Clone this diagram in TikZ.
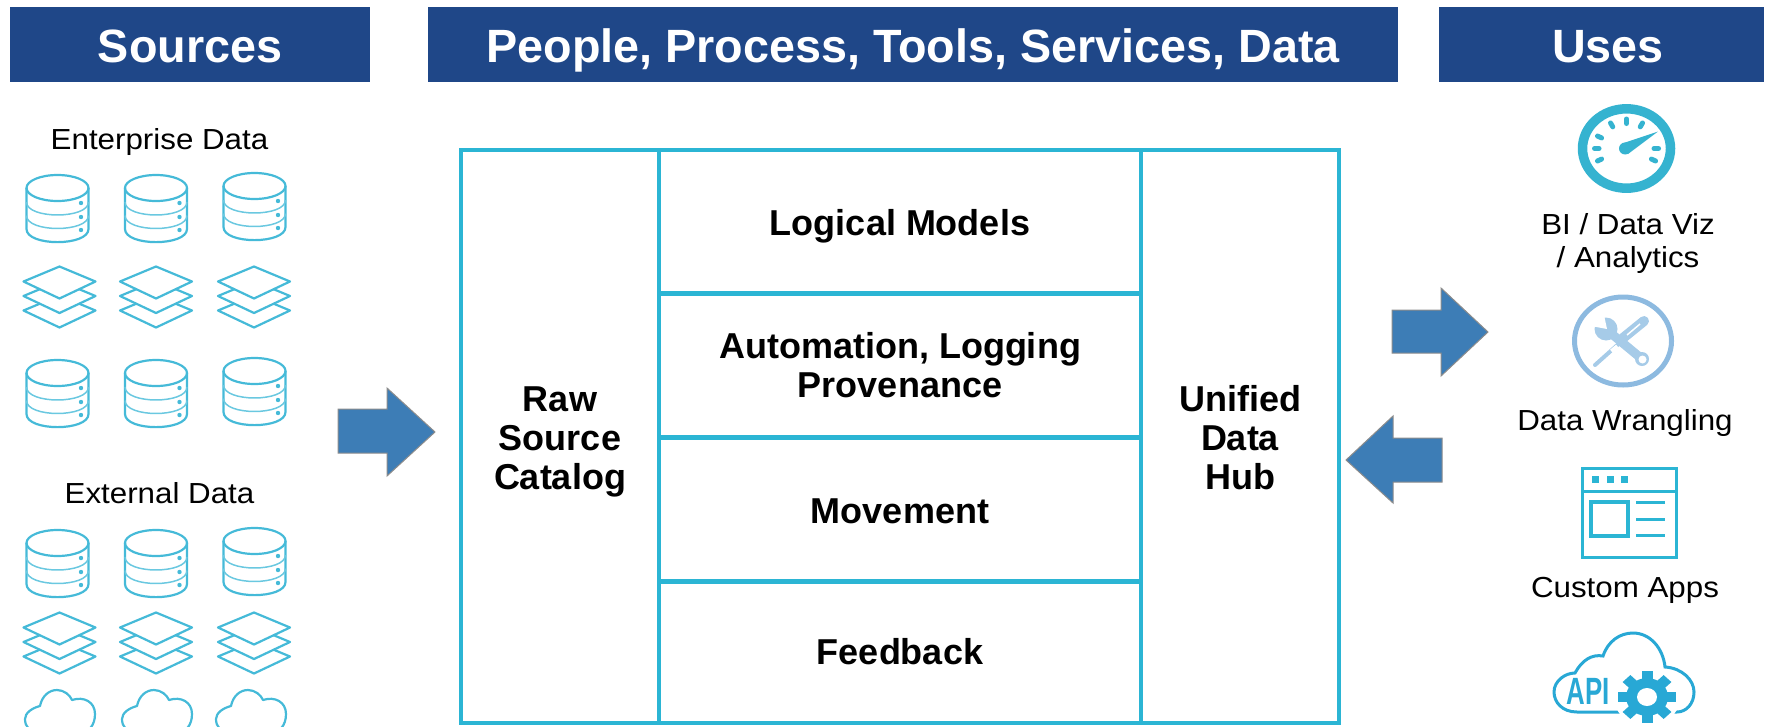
\documentclass[tikz,border=0pt]{standalone}
\usepackage{fontspec}
\usepackage{xcolor}
\setmainfont{Liberation Sans}
\newfontfamily\labelfont[FakeStretch=1.08]{Liberation Sans}
\usetikzlibrary{positioning, calc}

\definecolor{headblue}{HTML}{1F4788}
\definecolor{framecyan}{HTML}{2BB5D4}
\definecolor{iconcyan}{HTML}{45BAD8}
\definecolor{gaugecyan}{HTML}{35B3D0}
\definecolor{toolblue}{HTML}{8DBAE0}
\definecolor{wrenchblue}{HTML}{A6CBE8}
\definecolor{arrowblue}{HTML}{3D7DB6}
\definecolor{apiblue}{HTML}{28A8D5}

\tikzset{
	headbox/.style={fill=headblue, text=white, font=\fontsize{46.7}{50}\selectfont\bfseries, minimum height=75pt, inner sep=0pt, text height=40pt, text depth=5pt},
	cell/.style={align=center, font=\fontsize{36}{39}\selectfont\bfseries, inner sep=0pt},
	usetext/.style={align=center, font=\labelfont\fontsize{29}{33}\selectfont, inner sep=0pt},
	icon/.style={draw=iconcyan, line width=2.2pt, line join=round},
	blockarrow/.style={fill=arrowblue, draw=black!45, line width=1pt},
	dbicon/.pic={
		\draw[icon] (-31,-20.5) -- (-31,20.5) .. controls (-31,38) and (31,38) .. (31,20.5) -- (31,-20.5);
		\draw[icon] (0,-20.5) ellipse [x radius=31, y radius=13];
		\foreach \y in {-6.5,7}
		\draw[icon, draw=iconcyan!80, line width=1.5pt] (-31,\y) .. controls (-31,\y+17.3) and (31,\y+17.3) .. (31,\y);
		\foreach \y in {-5.5,8.5,21.5}
		\fill[iconcyan] (23.5,\y) circle (2.2);
	},
	layericon/.pic={
		\foreach \y in {29,14.5,0}
		\draw[icon, fill=white] (-36,\y) -- (0,\y-15) -- (36,\y) -- (0,\y+17) -- cycle;
	},
	cloudicon/.pic={
		\draw[icon] (-22,6) .. controls (-30,6) and (-35,1) .. (-35,-7) .. controls (-35,-13) and (-28,-18) .. (-20,-20)
		.. controls (-18,-30) and (-11,-36) .. (-3,-36) .. controls (4,-36) and (10,-31) .. (12,-26)
		.. controls (24,-30) and (35,-24) .. (35,-12) .. controls (35,0) and (28,6) .. (22,6) -- cycle;
	}
}

\begin{document}
\begin{tikzpicture}[x=1pt, y=-1pt]
	\useasboundingbox (0,0) rectangle (1768,726);
	
	\node (sources) [headbox, minimum width=360pt] at (190,44.5) {Sources};
	\node (people) [headbox, minimum width=970pt] at (913,44.5) {People, Process, Tools, Services, Data};
	\node (uses) [headbox, minimum width=325pt] at (1601.5,44.5) {\hspace{13pt}Uses};
	
	% left column
	\node (enterprise) [usetext] at (159.5,141.5) {Enterprise Data};
	\node (external) [usetext] at (159.5,493.5) {External Data};
	\foreach \xstep/\xup in {57.5/0,156/0,254.5/2}
	\foreach \ystep in {208.5,393.5,563.5}
	\pic at (\xstep,\ystep-\xup) {dbicon};
	\foreach \xstep in {59.5,156,254}
	\foreach \ystep in {281.5,627.5}
	\pic at (\xstep,\ystep) {layericon};
	\begin{scope}
		\clip (0,0) rectangle (1768,726);
		\foreach \xstep in {60,157,251}
		\pic at (\xstep,726) {cloudicon};
	\end{scope}
	
	% centre table
	\draw[draw=framecyan, line width=3.5pt] (461,150) rectangle (1339,723);
	\draw[draw=framecyan, line width=3.5pt] (659,150) -- (659,723) (1141,150) -- (1141,723);
	\foreach \ystep in {293,437,581}
	\draw[draw=framecyan, line width=5pt] (659,\ystep) -- (1141,\ystep);
	\node (raw) [cell] at (560,441.5) {Raw\\Source\\Catalog};
	\node (hub) [cell] at (1240,438) {Unified\\Data\\Hub};
	\foreach \name/\ystep/\val in {logical/226.5/Logical Models, auto/365/{Automation, Logging\\Provenance}, move/511/Movement, feedback/652/Feedback}
	\node (\name) [cell] at (900,\ystep) {\val};
	
	% arrows
	\draw[blockarrow] (338,409) -- (387,409) -- (387,388) -- (435,432) -- (387,476) -- (387,453) -- (338,453) -- cycle;
	\draw[blockarrow] (1392,310) -- (1441,310) -- (1441,288) -- (1488,332) -- (1441,376) -- (1441,353) -- (1392,353) -- cycle;
	\draw[blockarrow] (1442,438) -- (1393,438) -- (1393,416) -- (1346,460) -- (1393,503) -- (1393,482) -- (1442,482) -- cycle;
	
	% gauge
	\draw[draw=gaugecyan, line width=9.5pt] (1626.5,148.5) ellipse [x radius=44, y radius=39.7];
	\foreach \a in {-25,0,60,90,120,155,180,205}
	\draw[draw=gaugecyan, line width=5pt, line cap=round] ({1626.5+27.5*cos(\a)},{148.5-25*sin(\a)}) -- ({1626.5+32*cos(\a)},{148.5-29.5*sin(\a)});
	\fill[gaugecyan] (1625,148.5) circle (6);
	\fill[gaugecyan] (1622,143.5) -- (1658,131.5) -- (1628,154) -- cycle;
	\node (bi) [usetext] at (1628,243.5) {BI / Data Viz\\/ Analytics};
	
	% tools
	\draw[draw=toolblue, line width=5pt] (1623,341) ellipse [x radius=48.5, y radius=44];
	\draw[draw=wrenchblue, line width=4pt, line cap=round] (1595,365) -- (1623,340);
	\draw[draw=wrenchblue, line width=10pt, line cap=round] (1623,338) -- (1644,321);
	\draw[draw=white, line width=1.5pt] (1627,335) -- (1640,324);
	\draw[draw=white, line width=6pt] (1612,352) -- (1618,347);
	\draw[draw=wrenchblue, line width=9pt] (1607,330) -- (1642,359);
	\fill[wrenchblue] (1606,329) circle (11.5);
	\fill[white] (1607,329) -- (1604,315) -- (1591,326) -- cycle;
	\fill[wrenchblue] (1642,359) circle (7);
	\fill[white] (1642.5,359.5) circle (4);
	\node (wrangling) [usetext] at (1625,422.5) {Data Wrangling};
	
	% app window
	\draw[draw=framecyan, line width=3pt] (1582,468) rectangle (1676,557) (1582,491) -- (1676,491);
	\foreach \xstep in {1595,1610,1624}
	\fill[framecyan] (\xstep-3.5,475.5) rectangle (\xstep+3.5,482.5);
	\draw[draw=framecyan, line width=3.5pt] (1591,502) rectangle (1628,536);
	\foreach \ystep in {502,519,535}
	\draw[draw=framecyan, line width=3pt] (1636,\ystep) -- (1665,\ystep);
	\node (custom) [usetext] at (1625,590.5) {Custom Apps};
	
	% api cloud
	\draw[draw=apiblue, line width=3pt] (1577,712) .. controls (1562,712) and (1554,702) .. (1554,692)
	.. controls (1554,681) and (1565,673) .. (1575,673) .. controls (1582,660) and (1592,654) .. (1603,656)
	.. controls (1608,641) and (1620,633) .. (1633,633) .. controls (1650,633) and (1663,648) .. (1665,667)
	.. controls (1682,668) and (1694,680) .. (1694,692) .. controls (1694,704) and (1686,712) .. (1677,712) -- cycle;
	\begin{scope}[shift={(1647,697)}, yscale=0.9]
		\fill[white] (0,0) circle (33);
		\foreach \a in {0,45,...,315}
		\fill[apiblue, rotate=\a] (-5.5,-29) rectangle (5.5,-15);
		\fill[apiblue] (0,0) circle (21);
		\fill[white] (0,0) circle (10);
	\end{scope}
	\node (api) [transform shape, xscale=0.68, text=apiblue, inner sep=0pt, font=\fontsize{38}{40}\selectfont\bfseries] at (1588.5,691.5) {API};
\end{tikzpicture}
\end{document}
